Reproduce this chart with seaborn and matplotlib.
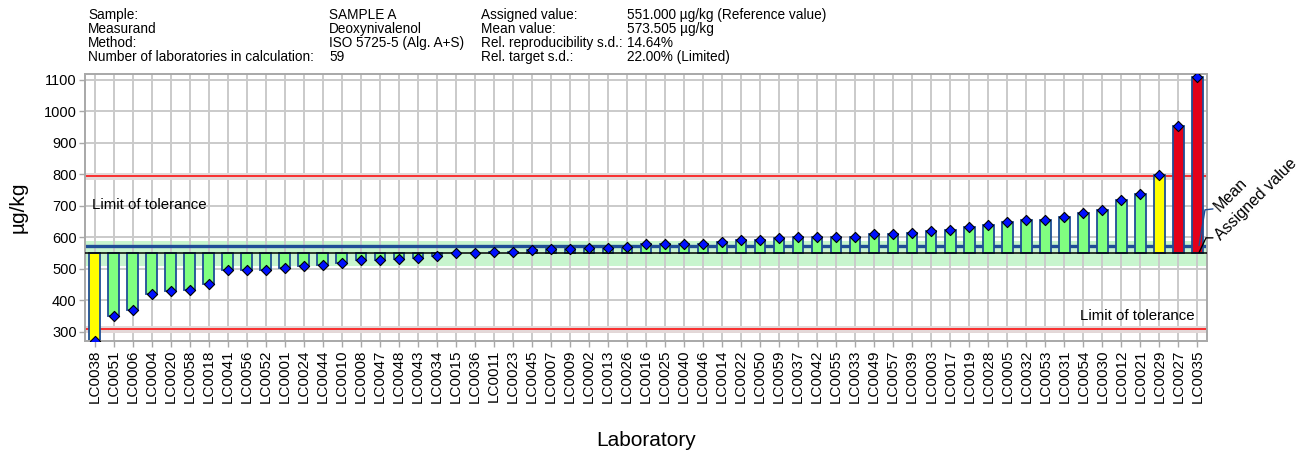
import matplotlib
matplotlib.use("Agg")
import matplotlib.pyplot as plt
import seaborn as sns
import pandas as pd
import numpy as np

# ---------------- data ----------------
labs = ["LC0038", "LC0051", "LC0006", "LC0004", "LC0020", "LC0058", "LC0018", "LC0041",
        "LC0056", "LC0052", "LC0001", "LC0024", "LC0044", "LC0010", "LC0008", "LC0047",
        "LC0048", "LC0043", "LC0034", "LC0015", "LC0036", "LC0011", "LC0023", "LC0045",
        "LC0007", "LC0009", "LC0002", "LC0013", "LC0026", "LC0016", "LC0025", "LC0040",
        "LC0046", "LC0014", "LC0022", "LC0050", "LC0059", "LC0037", "LC0042", "LC0055",
        "LC0033", "LC0049", "LC0057", "LC0039", "LC0003", "LC0017", "LC0019", "LC0028",
        "LC0005", "LC0032", "LC0053", "LC0031", "LC0054", "LC0030", "LC0012", "LC0021",
        "LC0029", "LC0027", "LC0035"]
values = [271, 349, 370, 421, 428, 433, 450, 495,
          495, 495, 501, 509, 513, 517, 528, 528,
          531, 535, 539, 550, 550, 554, 554, 558,
          562, 562, 565, 565, 569, 577, 577, 577,
          577, 584, 591, 591, 596, 602, 601, 601,
          601, 609, 609, 613, 620, 623, 634, 638,
          649, 656, 656, 664, 678, 686, 719, 737,
          798, 953, 1109]

assigned_value = 551.0
mean_value = 573.505
rel_target_sd = 0.22
band_low, band_high = 509, 587
yticks = [300, 400, 500, 600, 700, 800, 900, 1000, 1100]

header_col1 = ["Sample:", "Measurand", "Method:", "Number of laboratories in calculation:"]
header_col2 = ["SAMPLE A", "Deoxynivalenol", "ISO 5725-5 (Alg. A+S)", "59"]
header_col3 = ["Assigned value:", "Mean value:", "Rel. reproducibility s.d.:", "Rel. target s.d.:"]
header_col4 = ["551.000 µg/kg (Reference value)", "573.505 µg/kg", "14.64%", "22.00% (Limited)"]

# ---------------- derived ----------------
sd = assigned_value * rel_target_sd
upper_lim = assigned_value + 2 * sd
lower_lim = assigned_value - 2 * sd

def bar_color(v):
    z = abs(v - assigned_value) / sd
    if z > 3:
        return "#E2001A"
    if z > 2:
        return "#FFFF00"
    return "#80FF80"

df = pd.DataFrame({"Laboratory": labs, "value": values})
df["dev"] = df["value"] - assigned_value
palette = [bar_color(v) for v in values]

# ---------------- figure ----------------
sns.set_theme(style="white")
plt.rcParams["font.family"] = ["Liberation Sans", "DejaVu Sans"]

fig = plt.figure(figsize=(13.16, 4.57), dpi=100)
ax = fig.add_axes([85 / 1316, 1 - 341 / 457, 1122 / 1316, 267 / 457])

# grid
ax.set_axisbelow(True)
for t in yticks:
    ax.axhline(t, color="#CACACA", lw=1.4, zorder=0.2)
for i in range(len(labs)):
    ax.axvline(i, color="#CACACA", lw=1.4, zorder=0.2)

# green band
ax.axhspan(band_low, band_high, color="#C8F5CE", zorder=0.1, lw=0)

# tolerance lines
for lim in (upper_lim, lower_lim):
    ax.axhline(lim, color="#E3D8D8", lw=5, zorder=0.3)
    ax.axhline(lim, color="#FF0000", lw=1.1, zorder=0.4)

# mean line (under bars)
ax.axhline(mean_value, color="#1F4E96", lw=2.4, zorder=0.6)

# bars
sns.barplot(data=df, x="Laboratory", y="dev", hue="Laboratory", palette=palette,
            legend=False, dodge=False, width=0.55, bottom=assigned_value,
            edgecolor="#1F4E96", linewidth=1.3, saturation=1, ax=ax, zorder=2)

# assigned value line
ax.axhline(assigned_value, color="black", lw=1.1, zorder=3)

# points
sns.stripplot(data=df, x="Laboratory", y="value", jitter=False, marker="D",
              color="#0010FF", edgecolor="black", linewidth=0.8, size=5.2,
              ax=ax, zorder=5)

ax.set_xlim(-0.5, len(labs) - 0.5)
ax.set_ylim(270, 1119)
ax.set_yticks(yticks)
ax.set_yticklabels([str(t) for t in yticks])

for s in ax.spines.values():
    s.set_color("#A8A8A8")
    s.set_linewidth(1.4)

ax.tick_params(axis="x", labelrotation=90, labelsize=11, length=4, width=1,
               color="#A8A8A8", direction="out", bottom=True, pad=2, labelcolor="black")
ax.tick_params(axis="y", labelsize=10.5, length=4, width=1, color="#A8A8A8",
               direction="out", left=True, pad=2, labelcolor="black")

ax.set_xlabel("Laboratory", fontsize=15, color="black")
ax.set_ylabel("µg/kg", fontsize=15, color="black")
ax.xaxis.set_label_coords(0.5, -0.371)
ax.xaxis.label.set_va("center")
ax.yaxis.set_label_coords(-0.0597, 0.5)
ax.yaxis.label.set_va("center")

# limit texts
ax.text((92 - 85) / 1122, 704, "Limit of tolerance", transform=ax.get_yaxis_transform(),
        ha="left", va="center", fontsize=10.8, color="black")
ax.text((1195 - 85) / 1122, 348, "Limit of tolerance", transform=ax.get_yaxis_transform(),
        ha="right", va="center", fontsize=10.8, color="black")

# leader lines for mean / assigned value
ytr = ax.get_yaxis_transform()
ax.plot([0.9929, 0.9982, 1.0053], [mean_value, 687, 690], color="#1F4E96", lw=1.0,
        transform=ytr, clip_on=False, zorder=6)
ax.plot([0.9929, 0.9991, 1.0053], [assigned_value, 598, 598], color="black", lw=1.0,
        transform=ytr, clip_on=False, zorder=6)
ax.text(1.0085, 690, "Mean", transform=ytr, rotation=45, rotation_mode="anchor",
        ha="left", va="center", fontsize=11.5, color="black")
ax.text(1.0095, 598, "Assigned value", transform=ytr, rotation=45, rotation_mode="anchor",
        ha="left", va="center", fontsize=11.5, color="black")

# header
rows_y = [1 - 15 / 457, 1 - 29 / 457, 1 - 43 / 457, 1 - 57 / 457]
cols_x = [88 / 1316, 329 / 1316, 481 / 1316, 627 / 1316]
for cx, col in zip(cols_x, [header_col1, header_col2, header_col3, header_col4]):
    for ry, txt in zip(rows_y, col):
        fig.text(cx, ry, txt, ha="left", va="center", fontsize=9.8, color="black")

fig.savefig("out.png", dpi=100)
